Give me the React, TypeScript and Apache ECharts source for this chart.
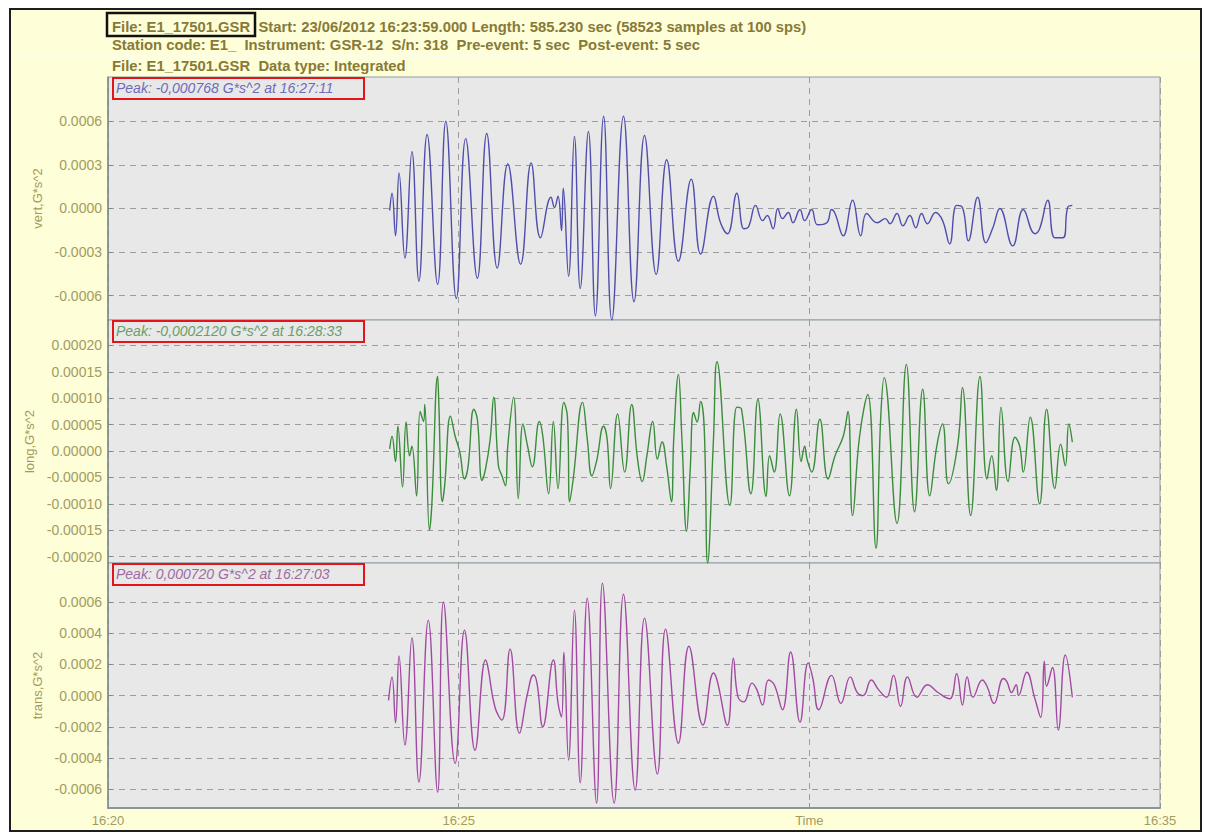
import React, { useEffect, useRef } from "react";
import * as echarts from "echarts";

// Record header (station / file information)
const headerLines = [
  "File: E1_17501.GSR  Start: 23/06/2012 16:23:59.000 Length: 585.230 sec (58523 samples at 100 sps)",
  "Station code: E1_  Instrument: GSR-12  S/n: 318  Pre-event: 5 sec  Post-event: 5 sec",
  "File: E1_17501.GSR  Data type: Integrated",
];

const channelNames = ["vert,G*s^2", "long,G*s^2", "trans,G*s^2"];
const peakLabels = [
  "Peak: -0,000768 G*s^2 at 16:27:11",
  "Peak: -0,0002120 G*s^2 at 16:28:33",
  "Peak: 0,000720 G*s^2 at 16:27:03",
];

// Time axis: seconds after 16:20:00
const timeTicks = [0, 300, 600, 900];
const timeTickLabels = ["16:20", "16:25", "Time", "16:35"];

// Amplitude ranges and tick values of each channel (G*s^2)
const vertRange = [-0.000768, 0.000905];
const longRange = [-0.000212, 0.000248];
const transRange = [-0.00072, 0.00085];
const vertTicks = [-0.0006, -0.0003, 0, 0.0003, 0.0006];
const longTicks = [-0.0002, -0.00015, -0.0001, -0.00005, 0, 0.00005, 0.0001, 0.00015, 0.0002];
const transTicks = [-0.0006, -0.0004, -0.0002, 0, 0.0002, 0.0004, 0.0006];

// Traces: [seconds after 16:20:00, G*s^2]
const vertTrace: [number, number][] = [
  [241, -14e-6], [243, 105e-6], [246, -188e-6], [249, 244e-6], [254, -342e-6], [260, 391e-6],
  [266, -502e-6], [273, 509e-6], [282, -523e-6], [289, 600e-6], [298, -621e-6], [306, 481e-6],
  [316, -481e-6], [324, 516e-6], [333, -411e-6], [342, 307e-6], [353, -384e-6], [362, 314e-6],
  [370, -202e-6], [379, 77e-6], [382, 7e-6], [385, 84e-6], [388, -153e-6], [389.5, 140e-6],
  [394, -467e-6], [399, 495e-6], [404, -551e-6], [411, 530e-6], [417, -740e-6], [424, 635e-6],
  [431, -768e-6], [441, 635e-6], [450, -642e-6], [459, 502e-6], [469, -454e-6], [478, 335e-6],
  [488, -363e-6], [499, 202e-6], [507, -314e-6], [518, 84e-6], [524, -98e-6], [530, -174e-6],
  [538, 105e-6], [544, -140e-6], [548, -126e-6], [554, 21e-6], [560, -84e-6], [564, -49e-6],
  [569, -140e-6], [573, 0], [577, -70e-6], [582, -28e-6], [586, -98e-6], [592, -7e-6],
  [596, -84e-6], [602, -7e-6], [607, -112e-6], [615, -98e-6], [619, -7e-6], [622, -35e-6],
  [629, -188e-6], [637, 56e-6], [644, -188e-6], [649, -35e-6], [658, -98e-6], [665, -70e-6],
  [669, -105e-6], [675, -35e-6], [680, -119e-6], [686, -49e-6], [691, -133e-6], [696, -35e-6],
  [701, -105e-6], [708, -28e-6], [714, -84e-6], [720, -244e-6], [726, 21e-6], [731, 7e-6],
  [736, -223e-6], [744, 77e-6], [751, -237e-6], [757, -133e-6], [763, 0], [774, -258e-6],
  [783, -7e-6], [793, -174e-6], [797, -140e-6], [804, 56e-6], [810, -202e-6], [817, -202e-6],
  [821, 7e-6], [825, 21e-6],
];

const longTrace: [number, number][] = [
  [241, 4e-6], [243, 28e-6], [246, -20e-6], [248, 47e-6], [252, -68e-6], [255, 55e-6],
  [258, -9e-6], [260, 9e-6], [264, -85e-6], [267, 75e-6], [270, 56e-6], [271, 88e-6],
  [275, -150e-6], [277, -103e-6], [282, 141e-6], [283, 92e-6], [286, -96e-6], [288, -66e-6],
  [293, 66e-6], [297, 28e-6], [301, -2e-6], [305, -53e-6], [308, -30e-6], [313, 79e-6],
  [316, 60e-6], [320, -56e-6], [323, -34e-6], [327, 23e-6], [330, 102e-6], [334, -28e-6],
  [337, -47e-6], [340, -66e-6], [342, 9e-6], [347, 102e-6], [351, -90e-6], [355, 51e-6],
  [359, 9e-6], [363, -30e-6], [369, 56e-6], [372, 28e-6], [377, -81e-6], [381, 56e-6],
  [385, -71e-6], [390, 92e-6], [393, 66e-6], [395, -96e-6], [398, -53e-6], [406, 92e-6],
  [410, 23e-6], [414, -47e-6], [418, -19e-6], [424, 47e-6], [427, 23e-6], [430, -71e-6],
  [436, 70e-6], [442, -40e-6], [448, 88e-6], [453, -15e-6], [457, -58e-6], [461, -9e-6],
  [466, 56e-6], [470, -15e-6], [474, 17e-6], [478, -30e-6], [482, -96e-6], [484, 23e-6],
  [488, 145e-6], [491, 23e-6], [495, -152e-6], [498, -40e-6], [501, 73e-6], [504, 55e-6],
  [507, 94e-6], [510, 47e-6], [513, -212e-6], [518, 23e-6], [521, 169e-6], [532, -103e-6],
  [538, 83e-6], [542, 79e-6], [550, -81e-6], [556, 98e-6], [563, -86e-6], [566, -9e-6],
  [570, -40e-6], [575, 70e-6], [583, -85e-6], [589, 79e-6], [593, -20e-6], [596, 9e-6],
  [598, -15e-6], [602, -40e-6], [609, 60e-6], [616, -53e-6], [622, -9e-6], [629, 28e-6],
  [633, 75e-6], [637, -122e-6], [643, 28e-6], [650, 107e-6], [657, -184e-6], [661, 60e-6],
  [664, 139e-6], [675, -137e-6], [683, 164e-6], [690, -115e-6], [697, 117e-6], [703, -85e-6],
  [709, 9e-6], [714, 51e-6], [719, -62e-6], [727, 13e-6], [731, 120e-6], [738, -122e-6],
  [746, 141e-6], [752, -53e-6], [756, -9e-6], [760, -75e-6], [764, 83e-6], [770, -58e-6],
  [776, 26e-6], [780, 9e-6], [783, -40e-6], [789, 64e-6], [797, -100e-6], [803, 79e-6],
  [810, -71e-6], [815, 13e-6], [819, -28e-6], [822, 51e-6], [825, 17e-6],
];

const transTrace: [number, number][] = [
  [240, -30e-6], [243, 120e-6], [246, -175e-6], [249, 254e-6], [254, -317e-6], [260, 369e-6],
  [266, -554e-6], [274, 484e-6], [282, -618e-6], [287, 600e-6], [297, -434e-6], [305, 420e-6],
  [314, -350e-6], [323, 228e-6], [325, 183e-6], [331, -73e-6], [337, -157e-6], [344, 298e-6],
  [352, -240e-6], [359, 17e-6], [364, 132e-6], [367, 81e-6], [372, -200e-6], [381, 228e-6],
  [385, -47e-6], [388, -137e-6], [390, 279e-6], [394, -413e-6], [399, 548e-6], [404, -559e-6],
  [410, 625e-6], [418, -689e-6], [423, 720e-6], [433, -689e-6], [441, 650e-6], [451, -605e-6],
  [459, 497e-6], [470, -503e-6], [477, 426e-6], [488, -305e-6], [497, 317e-6], [509, -188e-6],
  [518, 145e-6], [521, 100e-6], [530, -190e-6], [535, 240e-6], [539, -10e-6], [544, -40e-6],
  [551, 80e-6], [555, 40e-6], [560, -60e-6], [565, 100e-6], [570, 70e-6], [577, -90e-6],
  [584, 280e-6], [592, -170e-6], [599, 210e-6], [603, 110e-6], [608, -90e-6], [619, 130e-6],
  [627, -50e-6], [635, 120e-6], [641, 20e-6], [646, 0], [653, 100e-6], [659, 40e-6],
  [666, -10e-6], [672, 130e-6], [678, -70e-6], [684, 120e-6], [692, -10e-6], [701, 70e-6],
  [710, 20e-6], [720, -20e-6], [726, 140e-6], [731, -60e-6], [735, 120e-6], [740, -10e-6],
  [748, 100e-6], [752, 60e-6], [758, -50e-6], [766, 110e-6], [769, 90e-6], [773, 20e-6],
  [777, 70e-6], [779, 0], [786, 150e-6], [793, -20e-6], [798, -140e-6], [801, 220e-6],
  [803, 60e-6], [808, 180e-6], [813, -220e-6], [819, 260e-6], [825, -10e-6],
];

const traceColors = ["#4f4fab", "#3b8c3b", "#a24aa2"];
const peakColors = ["#6c6cb6", "#6a9e6a", "#a06aa0"];

const FONT = '"Liberation Sans", Arial, sans-serif';
const OLIVE = "#a39b5e";
const HEADER = "#877a38";

const PLOT_LEFT = 108;
const PLOT_WIDTH = 1052;
const PANELS = [
  { top: 77, height: 243 },
  { top: 320, height: 243 },
  { top: 563, height: 245 },
];

export default function App() {
  const ref = useRef<HTMLDivElement>(null);

  useEffect(() => {
    if (!ref.current) return;
    const chart = echarts.init(ref.current, null, { renderer: "svg" });

    const traces = [vertTrace, longTrace, transTrace];
    const ranges = [vertRange, longRange, transRange];
    const ticks = [vertTicks, longTicks, transTicks];
    const decimals = [4, 5, 4];

    const grids = PANELS.map((p) => ({
      left: PLOT_LEFT,
      top: p.top,
      width: PLOT_WIDTH,
      height: p.height,
      show: true,
      backgroundColor: "#e8e8e9",
      borderColor: "#8f9ea3",
      borderWidth: 1,
    }));

    const xAxes = PANELS.map((_, i) => ({
      type: "value",
      gridIndex: i,
      position: "bottom",
      min: timeTicks[0],
      max: timeTicks[timeTicks.length - 1],
      interval: timeTicks[1] - timeTicks[0],
      axisLine: { show: i === 2, onZero: false, lineStyle: { color: "#8a9598", width: 2 } },
      axisTick: { show: i === 2, inside: true, length: 5, lineStyle: { color: "#8a9598" } },
      axisLabel: {
        show: i === 2,
        margin: 6,
        color: OLIVE,
        fontFamily: FONT,
        fontSize: 13,
        formatter: (v: number) => timeTickLabels[timeTicks.indexOf(v)] ?? "",
      },
      splitLine: {
        show: true,
        lineStyle: { color: "#9c9c9c", type: [6, 5], width: 1 },
      },
    }));

    const yAxes = PANELS.map((_, i) => ({
      type: "value",
      gridIndex: i,
      min: ranges[i][0],
      max: ranges[i][1],
      name: channelNames[i],
      nameLocation: "middle",
      nameGap: 54,
      nameTextStyle: { color: OLIVE, fontFamily: FONT, fontSize: 13 },
      axisLine: { show: true, onZero: false, lineStyle: { color: "#7d8a8c", width: 1.5 } },
      axisTick: {
        show: true,
        inside: true,
        length: 4,
        customValues: ticks[i],
        lineStyle: { color: "#7d8a8c" },
      },
      axisLabel: {
        margin: 6,
        color: OLIVE,
        fontFamily: FONT,
        fontSize: 14,
        customValues: ticks[i],
        formatter: (v: number) => v.toFixed(decimals[i]),
      },
      splitLine: {
        show: true,
        lineStyle: { color: "#9c9c9c", type: [6, 5], width: 1 },
      },
    }));

    const series = traces.map((data, i) => ({
      type: "line",
      xAxisIndex: i,
      yAxisIndex: i,
      data,
      showSymbol: false,
      smooth: 0.45,
      lineStyle: { color: traceColors[i], width: 1.4 },
      z: 3,
    }));

    const graphics: any[] = [];
    // separator inside the header band
    graphics.push({
      type: "line",
      shape: { x1: 11, y1: 56, x2: 1198, y2: 56 },
      style: { stroke: "#fbfbee", lineWidth: 2 },
      z: 50,
    });
    const headerY = [27, 45, 66];
    headerLines.forEach((t, i) => {
      graphics.push({
        type: "text",
        x: 112,
        y: headerY[i],
        z: 100,
        style: {
          text: t,
          fill: HEADER,
          fontFamily: FONT,
          fontWeight: "bold",
          fontSize: 14.8,
          verticalAlign: "middle",
        },
      });
    });
    graphics.push({
      type: "rect",
      shape: { x: 107, y: 13, width: 148, height: 23 },
      style: { fill: "none", stroke: "#111", lineWidth: 2.5 },
      z: 110,
    });
    PANELS.forEach((p, i) => {
      graphics.push({
        type: "text",
        x: 116,
        y: p.top + 11,
        z: 100,
        style: {
          text: peakLabels[i],
          fill: peakColors[i],
          fontFamily: FONT,
          fontStyle: "italic",
          fontSize: 14,
          verticalAlign: "middle",
        },
      });
      graphics.push({
        type: "rect",
        shape: { x: 113, y: p.top + 1, width: 251, height: 21 },
        style: { fill: "none", stroke: "#e4141b", lineWidth: 2 },
        z: 110,
      });
    });

    chart.setOption({
      animation: false,
      backgroundColor: "transparent",
      grid: grids,
      xAxis: xAxes,
      yAxis: yAxes,
      series,
      graphic: graphics,
    });

    return () => chart.dispose();
  }, []);

  return (
    <div
      style={{
        position: "absolute",
        left: 0,
        top: 0,
        width: 1208,
        height: 833,
        background: "#ffffff",
      }}
    >
      <div
        style={{
          position: "absolute",
          left: 9,
          top: 8,
          width: 1189,
          height: 820,
          background: "#fefed9",
          border: "2px solid #1e1e1e",
        }}
      />
      <div
        ref={ref}
        style={{ position: "absolute", left: 0, top: 0, width: 1208, height: 833 }}
      />
    </div>
  );
}
